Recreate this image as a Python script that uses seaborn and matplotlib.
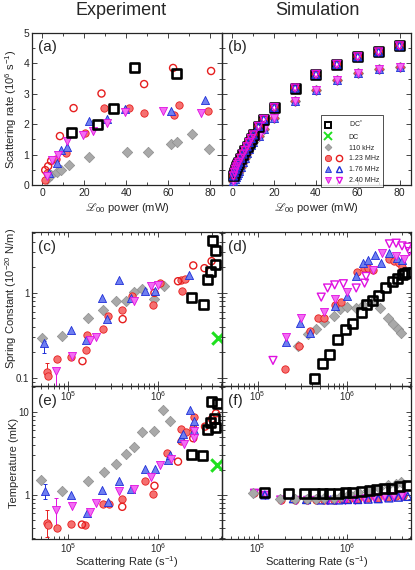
import numpy as np
import matplotlib
matplotlib.use("Agg")
import matplotlib.pyplot as plt
import matplotlib.ticker as mticker
from matplotlib.lines import Line2D
from matplotlib.legend_handler import HandlerTuple
import seaborn as sns

# ---------------- data ----------------
# (a) experiment: scattering rate (1e6 /s) vs L00 power (mW)
a_dcs_p = [14, 26, 34, 44, 64]
a_dcs_r = [1.73, 2.0, 2.52, 3.87, 3.66]
a_110_p = [2.2, 4.1, 6.7, 8.6, 12.4, 22.2, 40.3, 50.3, 61.3, 64.3, 71.3, 79.4]
a_110_r = [0.2, 0.33, 0.43, 0.5, 0.65, 0.91, 1.07, 1.07, 1.36, 1.43, 1.67, 1.18]
a_123f_p = [1.1, 2.2, 6.6, 11.1, 20.2, 29.5, 41.0, 48.4, 62.7, 64.9, 78.6]
a_123f_r = [0.17, 0.4, 0.85, 1.04, 1.70, 2.52, 2.53, 2.38, 2.30, 2.62, 2.44]
a_123o_p = [1.3, 2.7, 4.1, 8.3, 14.8, 28.1, 48.4, 62.2, 80.3]
a_123o_r = [0.49, 0.62, 0.79, 1.61, 2.53, 3.01, 3.32, 3.85, 3.75]
a_176_p = [3.3, 7.0, 8.6, 11.9, 22.0, 30.5, 39.5, 61.3, 77.6]
a_176_r = [0.4, 0.73, 1.15, 1.24, 2.12, 2.16, 2.49, 2.45, 2.8]
a_240_p = [2.2, 4.6, 7.3, 11.7, 19.4, 24.1, 30.5, 39.2, 57.5, 75.7]
a_240_r = [0.3, 0.82, 0.99, 1.45, 1.64, 1.79, 2.03, 2.41, 2.45, 2.38]

# (b) simulation: upper branch (DC* and open markers), lower branch (filled)
b_p = [0.5, 1, 1.5, 2, 2.5, 3, 4, 5, 6, 7, 8, 9, 10, 12.5, 15, 20, 30, 40, 50, 60, 70, 80]
b_hi = [0.30, 0.42, 0.52, 0.60, 0.68, 0.75, 0.88, 1.02, 1.14, 1.26, 1.40, 1.53, 1.65,
        1.93, 2.16, 2.55, 3.19, 3.64, 3.97, 4.22, 4.38, 4.58]
b_lo = [0.12, 0.20, 0.27, 0.33, 0.39, 0.45, 0.58, 0.76, 0.90, 1.04, 1.17, 1.30, 1.42,
        1.62, 1.83, 2.19, 2.76, 3.13, 3.45, 3.67, 3.80, 3.89]

# (c) experiment: spring constant (1e-20 N/m) vs scattering rate (1/s)
c_dcs_x = [2.35e6, 3.18e6, 3.52e6, 3.84e6, 4.27e6, 3.97e6, 4.33e6]
c_dcs_k = [0.88, 0.72, 1.45, 1.80, 2.15, 4.12, 3.15]
c_dc_x = [4.57e6]
c_dc_k = [0.293]
c_110_x = [5.1e4, 8.7e4, 1.68e5, 2.45e5, 3.37e5, 4.37e5, 5.4e5, 6.7e5, 9.1e5, 1.15e6]
c_110_k = [0.29, 0.31, 0.51, 0.63, 0.81, 0.81, 1.01, 1.10, 0.85, 1.19]
c_123f_x = [5.9e4, 6.0e4, 7.5e4, 1.08e5, 1.57e5, 1.62e5, 2.43e5, 2.8e5, 3.94e5, 5.1e5,
            8.7e5, 1.04e6, 1.77e6, 1.85e6, 1.99e6]
c_123f_k = [0.117, 0.105, 0.168, 0.177, 0.215, 0.32, 0.38, 0.54, 0.63, 0.92,
            0.72, 1.30, 1.42, 1.05, 1.45]
c_123o_x = [1.45e5, 4.04e5, 9.1e5, 1.66e6, 2.45e6, 3.26e6, 3.91e6]
c_123o_k = [0.157, 0.49, 1.0, 1.37, 2.1, 1.95, 2.36]
c_176_x = [5.5e4, 1.09e5, 1.59e5, 2.39e5, 2.74e5, 3.67e5, 5.06e5, 7.2e5, 9.25e5, 2.21e6]
c_176_k = [0.256, 0.364, 0.275, 0.88, 0.49, 1.42, 0.87, 1.04, 1.05, 1.61]
c_240_x = [7.3e4, 1.12e5, 1.74e5, 2.03e5, 5.4e5, 8.3e5, 1.0e6]
c_240_k = [0.119, 0.178, 0.275, 0.30, 0.80, 1.19, 1.22]

# (d) simulation: spring constant
d_dcs_x = [4.3e5, 5.3e5, 6.3e5, 7.8e5, 9.5e5, 1.13e6, 1.42e6, 1.64e6, 1.91e6, 2.21e6,
           2.62e6, 3.18e6, 3.62e6, 4.05e6, 4.35e6, 4.72e6]
d_dcs_k = [0.097, 0.146, 0.19, 0.285, 0.367, 0.44, 0.59, 0.72, 0.81, 0.92,
           1.14, 1.36, 1.49, 1.63, 1.68, 1.73]
d_110_x = [2.8e5, 3.6e5, 4.5e5, 5.5e5, 7.0e5, 8.3e5, 1.0e6, 1.23e6, 1.48e6, 1.86e6,
           2.31e6, 2.8e6, 3.18e6, 3.62e6, 3.95e6]
d_110_k = [0.238, 0.33, 0.38, 0.45, 0.54, 0.64, 0.69, 0.66, 0.72, 0.77,
           0.66, 0.50, 0.43, 0.38, 0.336]
d_123_x = [2.03e5, 2.88e5, 3.78e5, 4.68e5, 5.5e5, 7.2e5, 8.5e5, 1.27e6, 1.51e6, 1.68e6,
           1.91e6, 2.93e6, 3.33e6, 3.78e6, 4.1e6]
d_123_k = [0.126, 0.238, 0.36, 0.50, 0.51, 0.71, 0.79, 1.78, 1.95, 1.95,
           1.86, 2.49, 2.40, 2.27, 2.04]
d_176_x = [2.08e5, 2.93e5, 3.78e5, 7.2e5, 9.9e5, 1.25e6, 1.48e6, 1.71e6, 2.0e6, 2.37e6,
           2.93e6, 3.6e6, 4.05e6]
d_176_k = [0.267, 0.44, 0.336, 0.70, 0.92, 1.58, 2.27, 2.45, 2.8, 2.27, 2.93, 2.6, 2.45]
d_240f_x = [2.08e5, 3.0e5, 5.5e5, 7.2e5, 1.0e6, 1.91e6, 2.43e6, 3.48e6, 4.3e6]
d_240f_k = [0.306, 0.51, 0.60, 0.85, 1.02, 1.86, 2.93, 2.72, 2.5]
d_240o_x = [1.48e5, 5.1e5, 6.0e5, 7.2e5, 9.0e5, 1.25e6, 1.55e6, 1.61e6, 2.93e6, 3.48e6,
            4.05e6, 4.68e6, 4.9e6]
d_240o_k = [0.16, 0.89, 1.14, 1.24, 1.28, 1.14, 1.30, 1.56, 3.77, 3.84, 3.57, 3.45, 3.06]

# (e) experiment: temperature (mK)
e_dcs_x = [2.35e6, 3.12e6, 3.56e6, 3.77e6, 4.2e6, 4.3e6, 3.94e6, 4.49e6]
e_dcs_T = [3.1, 2.95, 6.07, 7.4, 8.4, 6.5, 13.3, 12.5]
e_dc_x = [4.49e6]
e_dc_T = [2.3]
e_110_x = [5.06e4, 8.6e4, 1.66e5, 2.5e5, 3.38e5, 4.37e5, 5.4e5, 6.7e5, 9.1e5, 1.13e6, 1.34e6]
e_110_T = [1.52, 1.13, 1.47, 1.88, 2.38, 3.09, 3.76, 5.7, 5.9, 10.6, 7.85]
e_123f_x = [5.9e4, 6.0e4, 7.5e4, 1.08e5, 1.55e5, 2.45e5, 2.84e5, 3.97e5, 7.15e5, 8.7e5,
            1.25e6, 1.8e6, 1.81e6, 2.06e6, 2.45e6, 2.47e6]
e_123f_T = [0.46, 0.44, 0.40, 0.45, 0.43, 0.77, 0.77, 0.89, 1.47, 1.03,
            3.18, 4.5, 6.2, 5.8, 6.4, 8.8]
e_123o_x = [1.43e5, 4.0e5, 9.1e5, 1.66e6, 2.45e6, 3.31e6, 3.94e6, 4.37e6]
e_123o_T = [0.44, 0.72, 1.29, 2.52, 4.82, 6.65, 8.2, 9.6]
e_176_x = [5.6e4, 1.08e5, 1.62e5, 2.39e5, 2.77e5, 3.67e5, 4.98e5, 7.15e5, 9.25e5, 1.29e6,
           1.35e6, 1.81e6, 1.9e6, 2.25e6, 2.52e6, 2.52e6]
e_176_T = [1.13, 1.01, 0.61, 1.15, 0.83, 1.47, 1.18, 2.04, 2.06, 2.64,
           3.03, 4.82, 5.4, 10.6, 6.07, 7.8]
e_240_x = [7.3e4, 1.1e5, 1.74e5, 2.05e5, 3.67e5, 5.4e5, 8.3e5, 1.05e6, 1.4e6, 1.94e6,
           2.52e6, 2.52e6]
e_240_T = [0.66, 0.74, 0.63, 0.79, 1.13, 1.18, 1.66, 2.3, 2.69, 4.1, 4.8, 5.9]

# (f) simulation: temperature (mK)
f_dcs_x = [1.18e5, 2.23e5, 3.33e5, 4.3e5, 5.3e5, 6.3e5, 8.0e5, 9.45e5, 1.15e6, 1.42e6,
           1.75e6, 2.08e6, 2.58e6, 3.07e6, 3.8e6, 4.68e6]
f_dcs_T = [1.07, 1.04, 1.03, 1.03, 1.04, 1.04, 1.05, 1.06, 1.08, 1.1,
           1.12, 1.15, 1.18, 1.21, 1.25, 1.3]
f_110_x = [8.9e4, 1.75e5, 2.6e5, 3.5e5, 4.5e5, 5.5e5, 7.0e5, 8.5e5, 1.05e6, 1.3e6,
           1.7e6, 2.27e6, 2.8e6, 3.48e6, 3.95e6]
f_110_T = [1.05, 0.89, 0.89, 0.9, 0.9, 0.91, 0.92, 0.96, 1.04, 1.1,
           1.15, 1.22, 1.3, 1.36, 1.42]
f_123_x = [9.0e4, 1.8e5, 2.6e5, 3.5e5, 4.5e5, 5.5e5, 7.0e5, 8.5e5, 1.05e6, 1.3e6,
           1.7e6, 2.2e6, 2.8e6, 3.5e6, 4.2e6]
f_123_T = [1.05, 0.88, 0.88, 0.87, 0.87, 0.88, 0.88, 0.89, 0.9, 0.9,
           0.91, 0.93, 0.95, 0.96, 0.97]
f_176_x = [1.2e5, 2.5e5, 3.5e5, 5.0e5, 6.5e5, 8.0e5, 1.0e6, 1.3e6, 1.7e6, 2.2e6,
           2.9e6, 3.7e6, 4.7e6]
f_176_T = [1.0, 0.9, 0.88, 0.87, 0.87, 0.87, 0.88, 0.88, 0.89, 0.9, 0.92, 0.94, 0.96]
f_240_x = [9.2e4, 1.22e5, 1.8e5, 2.7e5, 3.6e5, 4.6e5, 6e5, 7.5e5, 9.5e5, 1.2e6,
           1.55e6, 2.0e6, 2.6e6, 3.3e6, 4.0e6]
f_240_T = [1.05, 0.99, 0.87, 0.86, 0.86, 0.86, 0.86, 0.86, 0.87, 0.88,
           0.9, 0.92, 0.94, 0.95, 0.96]

legend_labels = ["DC$^*$", "DC", "110 kHz", "1.23 MHz", "1.76 MHz", "2.40 MHz"]

# ---------------- style ----------------
sns.set_style("ticks")
plt.rcParams["font.family"] = ["Liberation Sans", "DejaVu Sans"]
plt.rcParams["mathtext.fontset"] = "custom"
plt.rcParams["mathtext.rm"] = "Liberation Sans"
plt.rcParams["mathtext.it"] = "Liberation Sans:italic"
plt.rcParams["mathtext.bf"] = "Liberation Sans:bold"
plt.rcParams["mathtext.fallback"] = "stix"

RED_F, RED_E = "#f57070", "#e61e1e"
BLUE_F, BLUE_E = "#6f7ff0", "#1f2fd8"
MAG_F, MAG_E = "#f36cf3", "#e010e0"
GRAY_F, GRAY_E = "#a9a9a9", "#8e8e8e"
GREEN = "#1fe01f"

STY = {
    "dcs": dict(marker="s", s=42, facecolor="none", edgecolor="black", linewidth=1.9),
    "dc": dict(marker="x", s=80, color=GREEN, linewidth=2.2),
    "110": dict(marker="D", s=28, color=GRAY_F, edgecolor=GRAY_E, linewidth=0.5),
    "123f": dict(marker="o", s=28, color=RED_F, edgecolor=RED_E, linewidth=0.6),
    "123o": dict(marker="o", s=26, facecolor="none", edgecolor=RED_E, linewidth=1.0),
    "176f": dict(marker="^", s=34, color=BLUE_F, edgecolor=BLUE_E, linewidth=0.6),
    "176o": dict(marker="^", s=32, facecolor="none", edgecolor=BLUE_E, linewidth=1.0),
    "240f": dict(marker="v", s=34, color=MAG_F, edgecolor=MAG_E, linewidth=0.6),
    "240o": dict(marker="v", s=32, facecolor="none", edgecolor=MAG_E, linewidth=1.0),
}


def pts(ax, x, y, kind):
    sns.scatterplot(x=x, y=y, ax=ax, zorder=3, legend=False, **STY[kind])


def err(ax, x, y, lo, hi, c):
    ax.errorbar(x, y, yerr=[[y - lo], [hi - y]], fmt="none", ecolor=c,
                elinewidth=0.7, capsize=1.5, capthick=0.7, zorder=2)


fig = plt.figure(figsize=(4.15, 5.70), dpi=100)
L1, W1 = 32 / 415, 190 / 415
L2, W2 = 222 / 415, 189 / 415
ax_a = fig.add_axes([L1, 0.6754, W1, 0.2667])
ax_b = fig.add_axes([L2, 0.6754, W2, 0.2667])
ax_c = fig.add_axes([L1, 0.3228, W1, 0.2702])
ax_d = fig.add_axes([L2, 0.3228, W2, 0.2702])
ax_e = fig.add_axes([L1, 0.0544, W1, 0.2684])
ax_f = fig.add_axes([L2, 0.0544, W2, 0.2684])
axes = [ax_a, ax_b, ax_c, ax_d, ax_e, ax_f]

# ---------------- (a) ----------------
pts(ax_a, a_110_p, a_110_r, "110")
pts(ax_a, a_123f_p, a_123f_r, "123f")
pts(ax_a, a_123o_p, a_123o_r, "123o")
pts(ax_a, a_176_p, a_176_r, "176f")
pts(ax_a, a_240_p, a_240_r, "240f")
pts(ax_a, a_dcs_p, a_dcs_r, "dcs")

# ---------------- (b) ----------------
pts(ax_b, b_p, b_lo, "110")
pts(ax_b, b_p, b_lo, "123f")
pts(ax_b, b_p, b_lo, "176f")
pts(ax_b, b_p, b_lo, "240f")
pts(ax_b, b_p, b_hi, "dcs")
pts(ax_b, b_p, b_hi, "123o")
pts(ax_b, b_p, b_hi, "176o")
pts(ax_b, b_p, b_hi, "240o")

# ---------------- (c) ----------------
err(ax_c, 5.5e4, 0.256, 0.197, 0.27, BLUE_E)
err(ax_c, 5.9e4, 0.117, 0.10, 0.149, RED_E)
err(ax_c, 7.3e4, 0.119, 0.07, 0.13, MAG_E)
pts(ax_c, c_110_x, c_110_k, "110")
pts(ax_c, c_123f_x, c_123f_k, "123f")
pts(ax_c, c_123o_x, c_123o_k, "123o")
pts(ax_c, c_176_x, c_176_k, "176f")
pts(ax_c, c_240_x, c_240_k, "240f")
pts(ax_c, c_dcs_x, c_dcs_k, "dcs")
pts(ax_c, c_dc_x, c_dc_k, "dc")

# ---------------- (d) ----------------
pts(ax_d, d_110_x, d_110_k, "110")
pts(ax_d, d_123_x, d_123_k, "123f")
pts(ax_d, d_176_x, d_176_k, "176f")
pts(ax_d, d_240f_x, d_240f_k, "240f")
pts(ax_d, d_240o_x, d_240o_k, "240o")
pts(ax_d, d_dcs_x, d_dcs_k, "dcs")

# ---------------- (e) ----------------
err(ax_e, 5.6e4, 1.13, 0.89, 1.35, BLUE_E)
err(ax_e, 5.9e4, 0.46, 0.31, 0.66, RED_E)
err(ax_e, 7.3e4, 0.66, 0.41, 0.92, MAG_E)
pts(ax_e, e_110_x, e_110_T, "110")
pts(ax_e, e_123f_x, e_123f_T, "123f")
pts(ax_e, e_123o_x, e_123o_T, "123o")
pts(ax_e, e_176_x, e_176_T, "176f")
pts(ax_e, e_240_x, e_240_T, "240f")
pts(ax_e, e_dcs_x, e_dcs_T, "dcs")
pts(ax_e, e_dc_x, e_dc_T, "dc")

# ---------------- (f) ----------------
pts(ax_f, f_123_x, f_123_T, "123f")
pts(ax_f, f_240_x, f_240_T, "240f")
pts(ax_f, f_240_x, f_240_T, "240o")
pts(ax_f, f_176_x, f_176_T, "176o")
pts(ax_f, f_110_x, f_110_T, "110")
pts(ax_f, f_dcs_x, f_dcs_T, "dcs")

# ---------------- axes formatting ----------------
for ax in axes:
    ax.set_facecolor("none")
    for sp in ax.spines.values():
        sp.set_linewidth(0.9)
        sp.set_visible(True)
    ax.tick_params(which="both", direction="in", top=True, right=True,
                   labelsize=7, pad=2, width=0.6)
    ax.tick_params(which="major", length=3.5)
    ax.tick_params(which="minor", length=2)
    ax.set_xlabel("")
    ax.set_ylabel("")

for ax in (ax_a, ax_b):
    ax.set_xlim(-5, 85.5)
    ax.set_ylim(0, 5)
    ax.xaxis.set_major_locator(mticker.MultipleLocator(20))
    ax.xaxis.set_minor_locator(mticker.MultipleLocator(10))
    ax.yaxis.set_major_locator(mticker.MultipleLocator(1))
    ax.yaxis.set_minor_locator(mticker.MultipleLocator(0.5))
    ax.tick_params(labelsize=7.5)
    ax.set_xlabel("$ℒ_{00}$ power (mW)", fontsize=8)
    ax.xaxis.set_label_coords(0.5, -0.105)
ax_b.tick_params(labelleft=False)

fmt = mticker.FuncFormatter(lambda v, _: f"{v:g}")
for ax in (ax_c, ax_d, ax_e, ax_f):
    ax.set_xscale("log")
    ax.set_yscale("log")
    ax.set_xlim(4e4, 5.1e6)
    ax.xaxis.set_major_locator(mticker.LogLocator(base=10, numticks=10))
    ax.xaxis.set_minor_locator(mticker.LogLocator(base=10, subs=np.arange(2, 10), numticks=20))
    ax.xaxis.set_minor_formatter(mticker.NullFormatter())
    ax.yaxis.set_major_locator(mticker.LogLocator(base=10, numticks=10))
    ax.yaxis.set_minor_locator(mticker.LogLocator(base=10, subs=np.arange(2, 10), numticks=20))
    ax.yaxis.set_major_formatter(fmt)
    ax.yaxis.set_minor_formatter(mticker.NullFormatter())
for ax in (ax_c, ax_d):
    ax.set_ylim(0.08, 5.2)
for ax in (ax_e, ax_f):
    ax.set_ylim(0.295, 20.5)
    ax.tick_params(axis="x", which="both", pad=1.5)
    ax.set_xlabel("Scattering Rate (s$^{-1}$)", fontsize=8)
    ax.xaxis.set_label_coords(0.5, -0.1)
ax_d.tick_params(labelleft=False)
ax_f.tick_params(labelleft=False)

ax_a.set_ylabel("Scattering rate (10$^6$ s$^{-1}$)", fontsize=8)
ax_c.set_ylabel("Spring Constant (10$^{-20}$ N/m)", fontsize=8)
ax_e.set_ylabel("Temperature (mK)", fontsize=8)
ax_a.yaxis.set_label_coords(-0.07, 0.5)
ax_c.yaxis.set_label_coords(-0.07, 0.57)
ax_e.yaxis.set_label_coords(-0.07, 0.5)

for ax, lab in zip(axes, ["(a)", "(b)", "(c)", "(d)", "(e)", "(f)"]):
    ax.text(0.03, 0.905, lab, transform=ax.transAxes, fontsize=11, va="center", ha="left")

fig.text(0.291, 0.981, "Experiment", ha="center", va="center", fontsize=13)
fig.text(0.765, 0.981, "Simulation", ha="center", va="center", fontsize=13)

# ---------------- legend in (b) ----------------
def h(kind, ms):
    st = STY[kind]
    face = st.get("facecolor", st.get("color"))
    edge = st.get("edgecolor", st.get("color"))
    return Line2D([], [], linestyle="none", marker=st["marker"], markersize=ms,
                  markerfacecolor=face, markeredgecolor=edge,
                  markeredgewidth=min(st["linewidth"], 1.4))


blank = Line2D([], [], linestyle="none")
handles = [
    (h("dcs", 5), blank),
    (h("dc", 6), blank),
    (h("110", 3.5), blank),
    (h("123f", 4.5), h("123o", 4.5)),
    (h("176f", 5), h("176o", 5)),
    (h("240f", 5), h("240o", 5)),
]
leg = ax_b.legend(handles, legend_labels, loc="upper left", bbox_to_anchor=(0.524, 0.46),
                  handler_map={tuple: HandlerTuple(ndivide=None, pad=0.6)},
                  fontsize=5, frameon=True, fancybox=False, edgecolor="black",
                  handlelength=2.6, handletextpad=0.9, labelspacing=0.55,
                  borderpad=0.5, borderaxespad=0)
leg.get_frame().set_linewidth(0.6)

fig.savefig("out.png", dpi=100)
